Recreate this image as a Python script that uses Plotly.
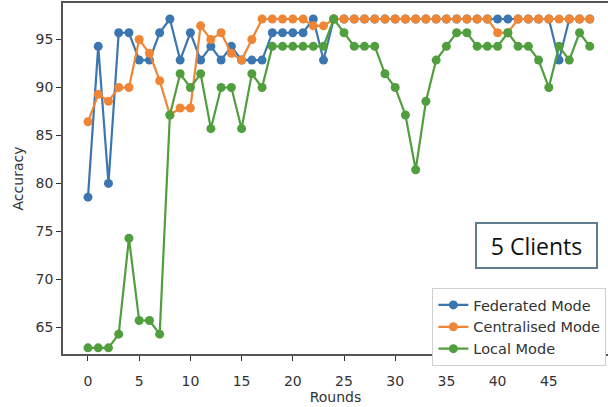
import plotly.graph_objects as go

rounds = list(range(50))

federated = [78.57, 94.29, 80.00, 95.71, 95.71, 92.86, 92.86, 95.71, 97.14, 92.86,
             95.71, 92.86, 94.29, 92.86, 94.29, 92.86, 92.86, 92.86, 95.71, 95.71,
             95.71, 95.71, 97.14, 92.86, 97.14, 97.14, 97.14, 97.14, 97.14, 97.14,
             97.14, 97.14, 97.14, 97.14, 97.14, 97.14, 97.14, 97.14, 97.14, 97.14,
             97.14, 97.14, 97.14, 97.14, 97.14, 97.14, 92.86, 97.14, 97.14, 97.14]

centralised = [86.43, 89.29, 88.57, 90.00, 90.00, 95.00, 93.57, 90.71, 87.14, 87.86,
               87.86, 96.43, 95.00, 95.71, 93.57, 92.86, 95.00, 97.14, 97.14, 97.14,
               97.14, 97.14, 96.43, 96.43, 97.14, 97.14, 97.14, 97.14, 97.14, 97.14,
               97.14, 97.14, 97.14, 97.14, 97.14, 97.14, 97.14, 97.14, 97.14, 97.14,
               95.71, 95.71, 97.14, 97.14, 97.14, 97.14, 97.14, 97.14, 97.14, 97.14]

local = [62.86, 62.86, 62.86, 64.29, 74.29, 65.71, 65.71, 64.29, 87.14, 91.43,
         90.00, 91.43, 85.71, 90.00, 90.00, 85.71, 91.43, 90.00, 94.29, 94.29,
         94.29, 94.29, 94.29, 94.29, 97.14, 95.71, 94.29, 94.29, 94.29, 91.43,
         90.00, 87.14, 81.43, 88.57, 92.86, 94.29, 95.71, 95.71, 94.29, 94.29,
         94.29, 95.71, 94.29, 94.29, 92.86, 90.00, 94.29, 92.86, 95.71, 94.29]

series_names = ["Federated Mode", "Centralised Mode", "Local Mode"]
series_colors = ["#3b76b0", "#ef8636", "#519e3e"]
x_ticks = [0, 5, 10, 15, 20, 25, 30, 35, 40, 45]
y_ticks = [65, 70, 75, 80, 85, 90, 95]
annotation_text = "5 Clients"

fig = go.Figure()
for name, vals, col in zip(series_names, [federated, centralised, local], series_colors):
    fig.add_trace(go.Scatter(
        x=rounds, y=vals, name=name, mode="lines+markers",
        line=dict(color=col, width=2.2),
        marker=dict(color=col, size=9),
    ))

font_main = "DejaVu Sans"
fig.update_layout(
    width=608, height=407,
    margin=dict(l=63, r=0, t=3, b=53, autoexpand=False),
    paper_bgcolor="white", plot_bgcolor="white",
    font=dict(family=font_main, size=13, color="#333333"),
    showlegend=True,
    legend=dict(
        x=0.997, y=0.188, xanchor="right", yanchor="top",
        bgcolor="white", bordercolor="#d0d0d0", borderwidth=1,
        font=dict(family=font_main, size=14.5, color="#333333"),
        itemwidth=30, tracegroupgap=0,
    ),
    xaxis=dict(
        range=[-2.44, 50.78], tickvals=x_ticks, ticks="outside", ticklen=5,
        tickwidth=1, tickcolor="#333333", automargin=False,
        ticklabelstandoff=8,
        showline=True, linecolor="#555555", linewidth=1.5, mirror=True,
        showgrid=False, zeroline=False,
        title=dict(text="Rounds", font=dict(size=14, color="#333333"), standoff=4),
        tickfont=dict(size=14),
    ),
    yaxis=dict(
        range=[62.22, 98.81], tickvals=y_ticks, ticks="outside", ticklen=5,
        tickwidth=1, tickcolor="#333333", automargin=False,
        showline=True, linecolor="#555555", linewidth=1.5,
        showgrid=False, zeroline=False,
        title=dict(text="Accuracy", font=dict(size=14, color="#333333"), standoff=9),
        tickfont=dict(size=14),
    ),
    annotations=[dict(
        text=annotation_text, xref="paper", yref="paper",
        x=0.868, y=0.309, xanchor="center", yanchor="middle",
        showarrow=False, font=dict(family="Open Sans", size=23, color="#111111"),
        bgcolor="white", bordercolor="#5f7d8f", borderwidth=2, borderpad=3,
        width=113, height=37,
    )],
)

fig.write_html(
    "out.html",
    config={"displayModeBar": False},
    post_script="document.body.style.margin='0';document.body.style.overflow='hidden';",
)
